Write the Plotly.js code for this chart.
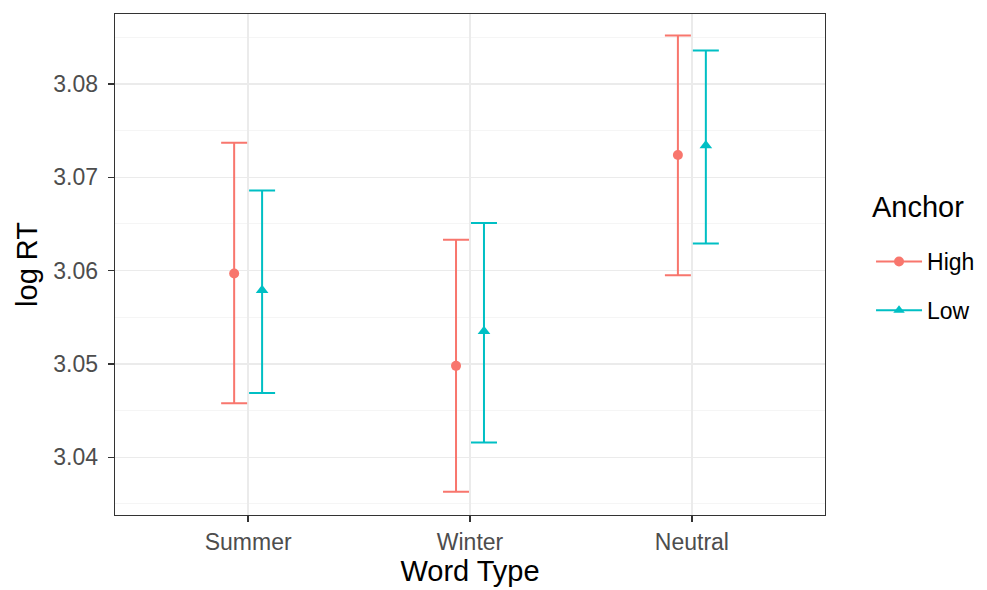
<!DOCTYPE html>
<html>
<head>
<meta charset="utf-8">
<script src="https://cdn.plot.ly/plotly-3.0.1.min.js"></script>
<style>html,body{margin:0;padding:0;background:#fff;}#chart{width:987px;height:590px;}</style>
</head>
<body>
<div id="chart"></div>
<script>
const categories = ["Summer", "Winter", "Neutral"];
const groups = ["High", "Low"];
const highMean = [3.0597, 3.0498, 3.0724];
const highUpper = [3.0737, 3.0633, 3.0852];
const highLower = [3.0458, 3.0363, 3.0595];
const lowMean = [3.0579, 3.0535, 3.0734];
const lowUpper = [3.0686, 3.0651, 3.0836];
const lowLower = [3.0469, 3.0416, 3.0629];
const yTicks = [3.04, 3.05, 3.06, 3.07, 3.08];
const legendTitle = "Anchor";

const colors = {High: "#F8766D", Low: "#00BFC4"};
const symbols = {High: "circle", Low: "triangle-up"};
const dodge = 0.063;
const idx = categories.map((c, i) => i);

function makeTrace(name, mean, upper, lower, offset) {
  return {
    type: "scatter", mode: "markers", name: name, showlegend: false,
    x: idx.map(i => i + offset), y: mean,
    marker: {color: colors[name], symbol: symbols[name], size: name === "Low" ? 11 : 10},
    error_y: {
      type: "data", symmetric: false,
      array: upper.map((u, i) => u - mean[i]),
      arrayminus: lower.map((l, i) => mean[i] - l),
      color: colors[name], thickness: 2, width: 13
    },
    hoverinfo: "skip"
  };
}
function legendTrace(name) {
  return {
    type: "scatter", mode: "lines+markers", name: name, legendgroup: name,
    x: [null], y: [null],
    line: {color: colors[name], width: 2},
    marker: {color: colors[name], symbol: symbols[name], size: 10}
  };
}

const data = [
  makeTrace("High", highMean, highUpper, highLower, -dodge),
  makeTrace("Low", lowMean, lowUpper, lowLower, dodge),
  legendTrace("High"),
  legendTrace("Low")
];

const minorVals = [];
for (let i = 0; i < yTicks.length + 1; i++) minorVals.push(3.035 + i * 0.01);

const layout = {
  width: 987, height: 590,
  margin: {l: 115, r: 162, t: 14, b: 75},
  paper_bgcolor: "#fff", plot_bgcolor: "#fff",
  font: {family: "Liberation Sans, Arial, sans-serif", color: "#000"},
  xaxis: {
    range: [-0.6, 2.6], tickvals: idx, ticktext: categories,
    showgrid: true, gridcolor: "#EBEBEB", gridwidth: 1.5,
    zeroline: false, showline: true, mirror: true, linecolor: "#333333", linewidth: 1.3,
    ticks: "outside", ticklen: 6, tickcolor: "#333333", tickwidth: 1.3,
    tickfont: {size: 23, color: "#4D4D4D"},
    automargin: false,
    title: {text: "Word Type", font: {size: 29, color: "#000"}, standoff: 5}
  },
  yaxis: {
    range: [3.03382, 3.0875], tickvals: yTicks, ticktext: yTicks.map(v => v.toFixed(2)),
    showgrid: true, gridcolor: "#EBEBEB", gridwidth: 1.5,
    minor: {tickvals: minorVals, showgrid: true, gridcolor: "#F2F2F2", gridwidth: 0.8, ticks: ""},
    zeroline: false, showline: true, mirror: true, linecolor: "#333333", linewidth: 1.3,
    ticks: "outside", ticklen: 6, tickcolor: "#333333", tickwidth: 1.3,
    ticklabelstandoff: 5,
    tickfont: {size: 23, color: "#4D4D4D"},
    automargin: false,
    title: {text: "log RT", font: {size: 29, color: "#000"}, standoff: 7}
  },
  legend: {
    xref: "container", yref: "container",
    x: 0.8825, xanchor: "left", y: 0.5932, yanchor: "top",
    font: {size: 23, color: "#000"},
    traceorder: "grouped", tracegroupgap: 16, itemwidth: 46,
    bgcolor: "rgba(0,0,0,0)"
  },
  annotations: [{
    text: legendTitle, xref: "paper", yref: "paper", x: 1.064, y: 0.6148,
    xanchor: "left", yanchor: "middle", showarrow: false,
    font: {size: 29, color: "#000"}
  }],
  showlegend: true
};

Plotly.newPlot("chart", data, layout, {displayModeBar: false, staticPlot: true});
</script>
</body>
</html>
